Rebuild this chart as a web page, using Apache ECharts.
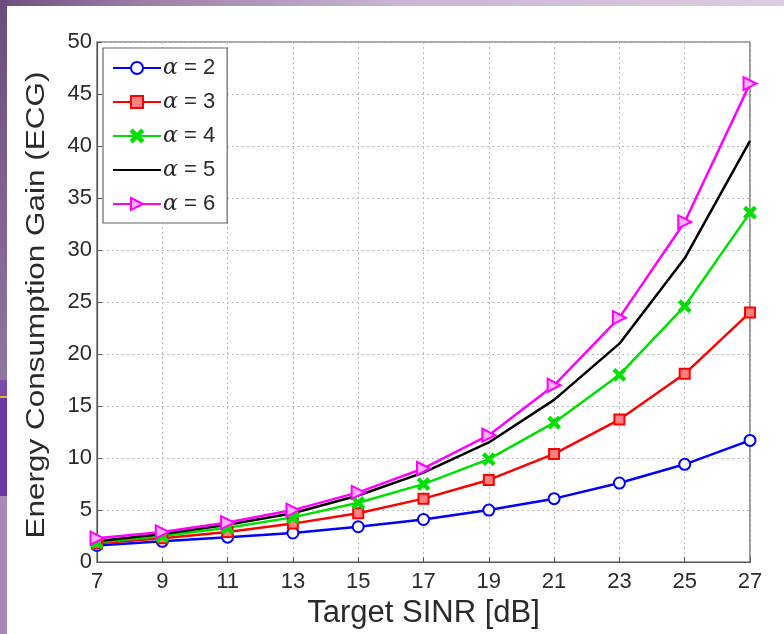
<!DOCTYPE html>
<html lang="en">
<head>
    <meta charset="utf-8">
    <title>ECG vs Target SINR</title>
    <script type="text/javascript" src="https://cdn.jsdelivr.net/npm/echarts@6/dist/echarts.min.js"></script>
    <style>
        html, body { margin: 0; padding: 0; background: #fff; }
    </style>
</head>
<body>
<div id="main" style="width: 784px;height:634px;"></div>

<script>
    // x axis: target SINR in dB
    var sinr = ['7', '9', '11', '13', '15', '17', '19', '21', '23', '25', '27'];
    var yTicks = [0, 5, 10, 15, 20, 25, 30, 35, 40, 45, 50];

    // ECG values, one list per alpha
    var alpha2 = [1.6, 2.0, 2.4, 2.8, 3.4, 4.1, 5.0, 6.1, 7.6, 9.4, 11.7];
    var alpha3 = [1.8, 2.3, 2.9, 3.7, 4.7, 6.1, 7.9, 10.4, 13.7, 18.1, 24.0];
    var alpha4 = [1.9, 2.5, 3.3, 4.3, 5.7, 7.5, 9.9, 13.4, 18.0, 24.6, 33.6];
    var alpha5 = [2.0, 2.7, 3.6, 4.7, 6.4, 8.6, 11.5, 15.6, 21.0, 29.2, 40.5];
    var alpha6 = [2.3, 2.9, 3.8, 5.0, 6.7, 9.0, 12.2, 17.0, 23.5, 32.7, 46.0];

    var names = ['2', '3', '4', '5', '6'];

    var chartDom = document.getElementById('main');
    var myChart = echarts.init(chartDom);
    var option;

    var font = '"Liberation Sans", Arial, sans-serif';
    var txt = '#2a2a2a';

    function mkSeries(name, data, color, symbol, size, fill) {
        return {
            name: name,
            type: 'line',
            data: data,
            symbol: symbol,
            symbolSize: size,
            showSymbol: symbol !== 'none',
            lineStyle: { color: color, width: 2.5 },
            itemStyle: { color: fill, borderColor: color, borderWidth: 2 },
            emphasis: { disabled: true },
            z: 3
        };
    }

    var xPath = 'path://M0,1.5L1.5,0L5,3.5L8.5,0L10,1.5L6.5,5L10,8.5L8.5,10L5,6.5L1.5,10L0,8.5L3.5,5Z';
    var triPath = 'path://M0,0L10,5L0,10Z';

    option = {
        animation: false,
        backgroundColor: '#ffffff',
        graphic: [
            {
                type: 'rect', left: 0, top: 0, z: -10,
                shape: { width: 784, height: 6 },
                style: {
                    fill: new echarts.graphic.LinearGradient(0, 0, 1, 0, [
                        { offset: 0, color: '#6e4f82' },
                        { offset: 0.18, color: '#9a7fa8' },
                        { offset: 0.5, color: '#c9b4d2' },
                        { offset: 1, color: '#dccde0' }
                    ])
                }
            },
            {
                type: 'rect', left: 0, top: 0, z: -10,
                shape: { width: 7, height: 380 },
                style: {
                    fill: new echarts.graphic.LinearGradient(0, 0, 0, 1, [
                        { offset: 0, color: '#6a4c7e' },
                        { offset: 1, color: '#8f76a0' }
                    ])
                }
            },
            { type: 'rect', left: 0, top: 380, z: -10, shape: { width: 7, height: 16 }, style: { fill: '#7a4aa8' } },
            { type: 'rect', left: 0, top: 396, z: -10, shape: { width: 7, height: 2 }, style: { fill: '#e8b030' } },
            { type: 'rect', left: 0, top: 398, z: -10, shape: { width: 7, height: 98 }, style: { fill: '#6a35a0' } },
            { type: 'rect', left: 0, top: 496, z: -10, shape: { width: 7, height: 138 }, style: { fill: '#a58ab8' } },
            // y axis title, stretched along its length like the reference
            {
                type: 'text',
                x: 37, y: 305,
                rotation: Math.PI / 2,
                scaleX: 1.21,
                style: {
                    text: 'Energy Consumption Gain (ECG)',
                    font: '26px ' + font,
                    fill: txt,
                    align: 'center',
                    verticalAlign: 'middle'
                }
            }
        ],
        grid: {
            left: 97,
            right: 34,
            top: 42,
            bottom: 62,
            show: true,
            borderColor: '#555',
            borderWidth: 1.2,
            containLabel: false
        },
        legend: {
            orient: 'vertical',
            left: 103,
            top: 48,
            width: 125,
            padding: [9, 12, 8, 9],
            itemGap: 12,
            itemWidth: 48,
            itemHeight: 15,
            backgroundColor: '#fff',
            borderColor: '#666',
            borderWidth: 1.2,
            data: [
                { name: '2' },
                { name: '3' },
                { name: '4' },
                { name: '5', itemStyle: { opacity: 0 } },
                { name: '6' }
            ],
            formatter: function (n) { return '{a|α} = ' + n; },
            textStyle: {
                fontFamily: font,
                fontSize: 22,
                color: txt,
                padding: [0, 0, 0, -3],
                rich: {
                    a: { fontFamily: '"DejaVu Serif", "Liberation Serif", serif', fontStyle: 'italic', fontSize: 22, color: txt }
                }
            }
        },
        xAxis: {
            type: 'category',
            data: sinr,
            boundaryGap: false,
            name: 'Target SINR [dB]',
            nameLocation: 'middle',
            nameGap: 27,
            nameTextStyle: { fontFamily: font, fontSize: 31, color: txt },
            axisLine: { lineStyle: { color: '#555', width: 1.2 } },
            axisTick: { inside: true, length: 5, lineStyle: { color: '#555' } },
            axisLabel: { fontFamily: font, fontSize: 22, color: txt, margin: 9 },
            splitLine: { show: true, lineStyle: { color: '#bbb', type: [2, 3], width: 1 } }
        },
        yAxis: {
            type: 'value',
            min: yTicks[0],
            max: yTicks[yTicks.length - 1],
            interval: 5,
            axisLine: { show: true, lineStyle: { color: '#555', width: 1.2 } },
            axisTick: { show: true, inside: true, length: 5, lineStyle: { color: '#555' } },
            axisLabel: { fontFamily: font, fontSize: 22, color: txt, margin: 5 },
            splitLine: { show: true, lineStyle: { color: '#bbb', type: [2, 3], width: 1 } }
        },
        series: [
            mkSeries(names[0], alpha2, '#0000ff', 'emptyCircle', 11, '#0000ff'),
            mkSeries(names[1], alpha3, '#ff0000', 'rect', 10, '#ff8080'),
            mkSeries(names[2], alpha4, '#00e000', xPath, 11, '#00e000'),
            mkSeries(names[3], alpha5, '#000000', 'none', 1, '#000000'),
            mkSeries(names[4], alpha6, '#ff00ff', triPath, 13, '#ffb0ff')
        ]
    };
    myChart.setOption(option);
</script>
</body>
</html>
